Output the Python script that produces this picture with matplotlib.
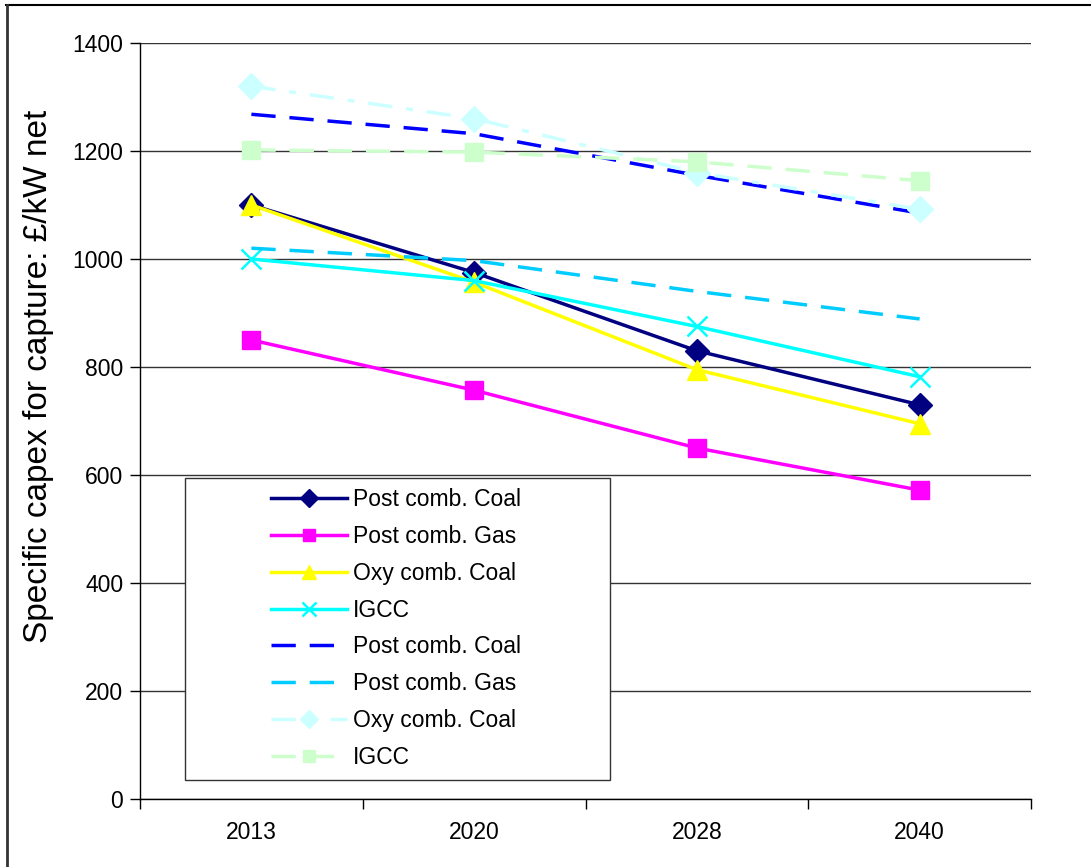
import matplotlib
matplotlib.use("Agg")
import matplotlib.pyplot as plt
from matplotlib.lines import Line2D
from matplotlib.patches import Rectangle

plt.rcParams["font.family"] = ["Liberation Sans", "DejaVu Sans"]

years = ["2013", "2020", "2028", "2040"]

# capture capex, £/kW net
post_coal = [1100, 975, 830, 730]
post_gas = [850, 757, 650, 572]
oxy_coal = [1100, 957, 795, 695]
igcc = [1000, 960, 875, 782]
post_coal_alt = [1268, 1232, 1155, 1085]
post_gas_alt = [1020, 997, 940, 889]
oxy_coal_alt = [1320, 1260, 1160, 1092]
igcc_alt = [1202, 1198, 1180, 1145]

labels = ["Post comb. Coal", "Post comb. Gas", "Oxy comb. Coal", "IGCC"] * 2

series = [post_coal, post_gas, oxy_coal, igcc,
          post_coal_alt, post_gas_alt, oxy_coal_alt, igcc_alt]

styles = [
    dict(color="#000080", marker="D", ms=12.5, ls="-"),
    dict(color="#FF00FF", marker="s", ms=13, ls="-"),
    dict(color="#FFFF00", marker="^", ms=14.5, ls="-"),
    dict(color="#00FFFF", marker="x", ms=14, mew=1.8, ls="-"),
    dict(color="#0000FF", marker=None, ls=(0, (7, 4))),
    dict(color="#00CCFF", marker=None, ls=(0, (7, 4))),
    dict(color="#CCFFFF", marker="D", ms=13, ls=(0, (7, 4, 2, 4))),
    dict(color="#CCFFCC", marker="s", ms=13, ls=(0, (7, 4))),
]

fig = plt.figure(figsize=(10.91, 8.67), dpi=100)
W, H = 1091, 867
ax = fig.add_axes([140 / W, 1 - 799 / H, 891 / W, 756 / H])

x = list(range(len(years)))
handles = []
for vals, lab, st in zip(series, labels, styles):
    st = dict(st)
    ls = st.pop("ls")
    (h,) = ax.plot(x, vals, linestyle=ls, lw=2.5, label=lab,
                   markeredgecolor=st["color"], zorder=3, **st)
    handles.append(h)

ax.set_xlim(-0.5, 3.5)
ax.set_ylim(0, 1400)
ax.set_yticks(range(0, 1401, 200))
ax.yaxis.grid(True, color="#333333", lw=1.0)
ax.set_axisbelow(True)

# category labels sit between the boundary ticks
ax.set_xticks([-0.5, 0.5, 1.5, 2.5, 3.5])
ax.set_xticklabels([])
ax.set_xticks(x, minor=True)
ax.set_xticklabels(years, minor=True, fontsize=16.5)
ax.tick_params(axis="x", which="major", direction="out", length=7, width=1, color="black")
ax.tick_params(axis="x", which="minor", length=0, pad=16)
ax.tick_params(axis="y", direction="out", length=7, width=1, labelsize=16.5, pad=5)

for side in ("top", "right"):
    ax.spines[side].set_visible(False)
for side in ("left", "bottom"):
    ax.spines[side].set_color("black")
    ax.spines[side].set_linewidth(1.0)

fig.text(39 / W, 1 - 376 / H, "Specific capex for capture: £/kW net",
         rotation=90, ha="center", va="center", fontsize=24)

# legend box with white fill
box = Rectangle((185 / W, 1 - 780 / H), 425 / W, 302 / H, transform=fig.transFigure,
                facecolor="white", edgecolor="#333333", lw=1.0, zorder=4)
fig.add_artist(box)
leg = fig.legend(handles=handles, labels=labels, loc="upper left",
                 bbox_to_anchor=(253 / W, 1 - 470 / H), frameon=False,
                 fontsize=16.5, handlelength=3.3, handletextpad=0.25,
                 labelspacing=0.6, borderpad=0.3, markerscale=0.7)
leg.set_zorder(5)

# outer frame (top and left edges)
fig.add_artist(Line2D([6 / W, 1], [1 - 5 / H, 1 - 5 / H], transform=fig.transFigure,
                      color="black", lw=1.5))
fig.add_artist(Line2D([7 / W, 7 / W], [0, 1 - 5 / H], transform=fig.transFigure,
                      color="#333333", lw=2.0))

fig.savefig("out.png", dpi=100)
